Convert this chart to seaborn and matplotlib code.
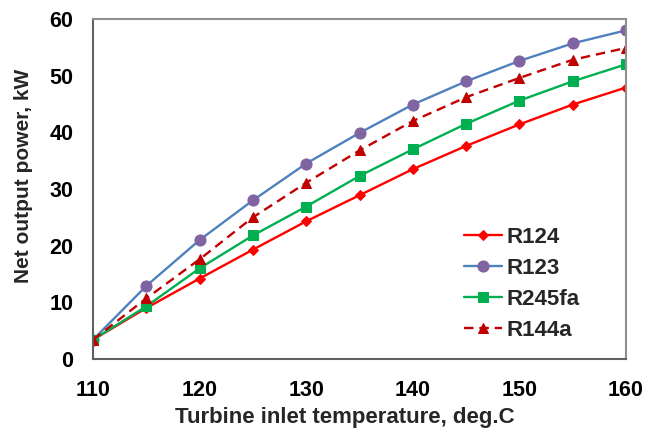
import numpy as np
import pandas as pd
import matplotlib
matplotlib.use("Agg")
import matplotlib.pyplot as plt
import seaborn as sns
from matplotlib.ticker import MultipleLocator

# data
temps = [110, 115, 120, 125, 130, 135, 140, 145, 150, 155, 160]
r124 = [3.4, 9.0, 14.2, 19.3, 24.3, 28.9, 33.5, 37.6, 41.4, 44.9, 47.9]
r123 = [3.4, 12.9, 21.0, 28.0, 34.5, 39.9, 44.9, 49.0, 52.6, 55.7, 58.0]
r245fa = [3.4, 9.3, 16.0, 21.8, 26.9, 32.3, 37.0, 41.5, 45.6, 49.0, 52.0]
r144a = [3.4, 10.7, 17.6, 25.0, 31.1, 36.8, 42.0, 46.2, 49.6, 52.8, 54.9]

series = ["R124", "R123", "R245fa", "R144a"]
values = [r124, r123, r245fa, r144a]

styles = {
    "R124": dict(color="#FF0000", marker="D", markerfacecolor="#FF0000", markeredgecolor="#FF0000", markersize=5, linestyle="-"),
    "R123": dict(color="#4F81BD", marker="o", markerfacecolor="#8064A2", markeredgecolor="#8064A2", markersize=8, linestyle="-"),
    "R245fa": dict(color="#00B050", marker="s", markerfacecolor="#00B050", markeredgecolor="#00B050", markersize=7, linestyle="-"),
    "R144a": dict(color="#C00000", marker="^", markerfacecolor="#C00000", markeredgecolor="#C00000", markersize=7.5, linestyle=(0, (4, 2.5))),
}

df = pd.DataFrame({"temp": temps * len(series),
                   "power": sum(values, []),
                   "fluid": np.repeat(series, len(temps))})

sns.set_theme(style="white")
plt.rcParams['font.family'] = ['Liberation Sans', 'DejaVu Sans']

fig = plt.figure(figsize=(6.57, 4.32), dpi=100)
ax = fig.add_axes([0.1416, 0.169, 0.8112, 0.787])

for name in series:
    sub = df[df["fluid"] == name]
    sns.lineplot(data=sub, x="temp", y="power", ax=ax, label=name, linewidth=1.7, **styles[name])

ax.set_xlim(110, 160)
ax.set_ylim(0, 60)
ax.xaxis.set_major_locator(MultipleLocator(10))
ax.xaxis.set_minor_locator(MultipleLocator(2))
ax.yaxis.set_major_locator(MultipleLocator(10))
ax.yaxis.set_minor_locator(MultipleLocator(2))
ax.tick_params(which="both", direction="in", colors="#000000", labelsize=15.5)
ax.tick_params(which="major", length=6, width=1.2, color="#606060")
ax.tick_params(which="minor", length=5, width=1.0, color="#606060")
ax.tick_params(axis="y", which="major", pad=14)
ax.tick_params(axis="x", which="major", pad=15)
for lab in ax.get_xticklabels() + ax.get_yticklabels():
    lab.set_fontweight("bold")

for side, sp in ax.spines.items():
    sp.set_visible(True)
    sp.set_linewidth(1.5)
    sp.set_color("#606060" if side in ("left", "bottom") else "#909090")

ax.set_xlabel("Turbine inlet temperature, deg.C", fontsize=16, fontweight="bold")
ax.set_ylabel("Net output power, kW", fontsize=15, fontweight="bold")
ax.xaxis.set_label_coords(0.473, -0.142)
ax.yaxis.set_label_coords(-0.113, 0.54)

leg = ax.legend(loc="lower right", bbox_to_anchor=(0.95, -0.005), frameon=False,
                handlelength=1.7, handletextpad=0.2, labelspacing=0.45,
                prop={"weight": "bold", "size": 16})

fig.savefig("out.png", dpi=100, facecolor="white")
